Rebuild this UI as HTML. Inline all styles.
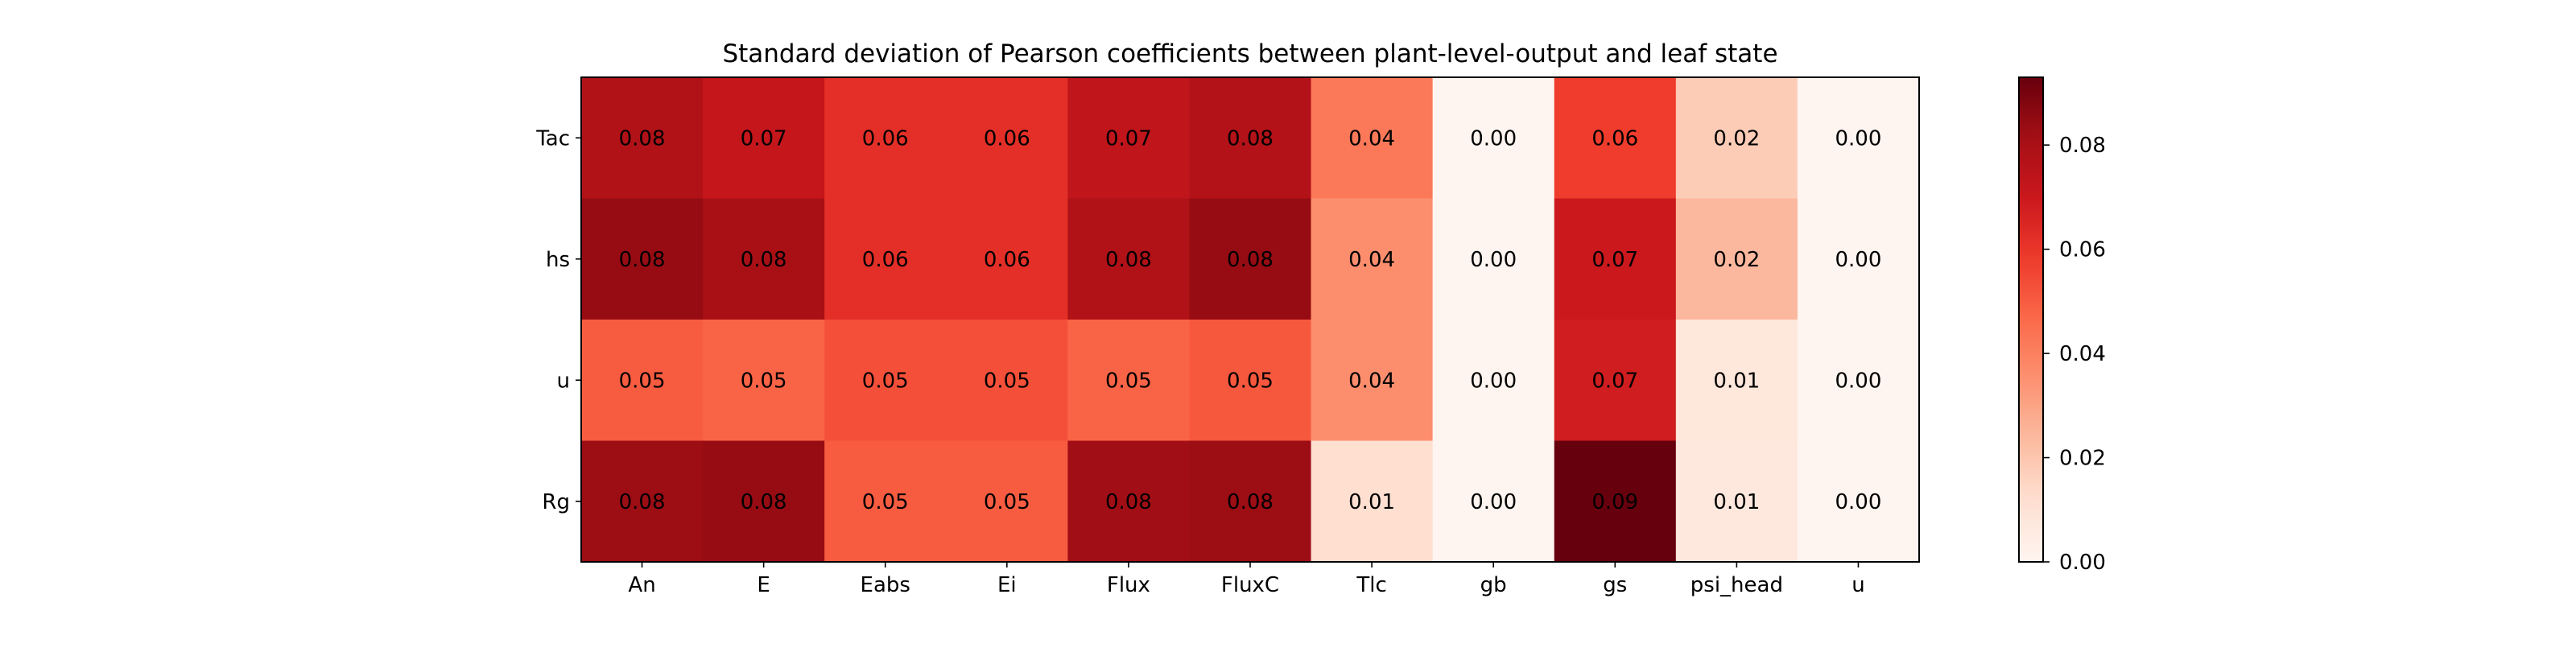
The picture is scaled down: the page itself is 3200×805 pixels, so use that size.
<!DOCTYPE html>
<html><head><meta charset="utf-8"><style>
html,body{margin:0;padding:0;background:#fff;}
svg text{font-family:"DejaVu Sans","Liberation Sans",sans-serif;}
</style></head><body>
<svg id="chart" width="3200" height="800" xmlns="http://www.w3.org/2000/svg">
<text x="1553" y="77" font-size="31" text-anchor="middle">Standard deviation of Pearson coefficients between plant-level-output and leaf state</text>
<g id="cells"></g>
<g id="axes"></g>
<g id="cbar"></g>
</svg>
<script>
const columns = ["An","E","Eabs","Ei","Flux","FluxC","Tlc","gb","gs","psi_head","u"];
const rows = ["Tac","hs","u","Rg"];
const rowTac = [0.078,0.072,0.062,0.062,0.073,0.077,0.042,0.0,0.058,0.018,0.0];
const rowHs  = [0.084,0.080,0.062,0.062,0.078,0.084,0.036,0.0,0.070,0.024,0.0];
const rowU   = [0.050,0.048,0.053,0.053,0.048,0.051,0.036,0.0,0.068,0.008,0.0];
const rowRg  = [0.083,0.084,0.050,0.050,0.082,0.083,0.012,0.0,0.093,0.007,0.0];
const cbarTicks = [0.00,0.02,0.04,0.06,0.08];
const vmin = 0, vmax = 0.093;

const values = [rowTac,rowHs,rowU,rowRg];
const NS="http://www.w3.org/2000/svg";
const L=722, R=2384, T=96, B=698;
const cw=(R-L)/columns.length, ch=(B-T)/rows.length;
const xPos=i=>L+i*cw, yPos=j=>T+j*ch;
const stops=["#fff5f0","#fee0d2","#fcbba1","#fc9272","#fb6a4a","#ef3b2c","#cb181d","#a50f15","#67000d"];
function hex(h){return [1,3,5].map(k=>parseInt(h.substr(k,2),16));}
function cmap(v){let t=Math.max(0,Math.min(1,(v-vmin)/(vmax-vmin)))*(stops.length-1);
 let i=Math.min(Math.floor(t),stops.length-2),f=t-i;const a=hex(stops[i]),b=hex(stops[i+1]);
 return "rgb("+a.map((x,k)=>Math.round(x+(b[k]-x)*f)).join(",")+")";}
function mk(tag,attrs,parent){const e=document.createElementNS(NS,tag);for(const k in attrs)e.setAttribute(k,attrs[k]);parent.appendChild(e);return e;}
const cells=document.getElementById('cells'), axes=document.getElementById('axes'), cb=document.getElementById('cbar');
values.forEach((row,j)=>row.forEach((v,i)=>{
 const r=mk('rect',{x:xPos(i),y:yPos(j),width:cw+0.5,height:ch+0.5,fill:cmap(v)},cells);
 
 
 const t=mk('text',{x:xPos(i)+cw/2,y:yPos(j)+ch/2+9,'font-size':26,'text-anchor':'middle'},cells);
 
 
 t.textContent=v.toFixed(2);
}));
const fr=mk('rect',{x:L,y:T,width:R-L,height:B-T,fill:'none',stroke:'#000','stroke-width':2},axes);


columns.forEach((c,i)=>{const x=xPos(i)+cw/2;
 mk('line',{x1:x,y1:B,x2:x,y2:B+7,stroke:'#000','stroke-width':1.6},axes);
 const t=mk('text',{x:x,y:B+37,'font-size':26,'text-anchor':'middle'},axes);
 
 
 t.textContent=c;});
rows.forEach((r,j)=>{const y=yPos(j)+ch/2;
 mk('line',{x1:L-7,y1:y,x2:L,y2:y,stroke:'#000','stroke-width':1.6},axes);
 const t=mk('text',{x:L-14,y:y+9,'font-size':26,'text-anchor':'end'},axes);
 
 
 t.textContent=r;});
const CL=2508, CR=2538;
const cy=v=>B-(v-vmin)/(vmax-vmin)*(B-T);
const defs=mk('defs',{},cb);
const g=mk('linearGradient',{id:'grad',x1:0,y1:1,x2:0,y2:0},defs);
for(let k=0;k<=20;k++){mk('stop',{offset:k/20,'stop-color':cmap(vmin+(vmax-vmin)*k/20)},g);}
const cr=mk('rect',{x:CL,y:T,width:CR-CL,height:B-T,fill:'url(#grad)',stroke:'#000','stroke-width':2},cb);


cbarTicks.forEach(v=>{const y=cy(v);
 mk('line',{x1:CR,y1:y,x2:CR+8,y2:y,stroke:'#000','stroke-width':1.6},cb);
 const t=mk('text',{x:CR+20,y:y+9,'font-size':26},cb);
 
 
 t.textContent=v.toFixed(2);});
</script>
</body></html>
